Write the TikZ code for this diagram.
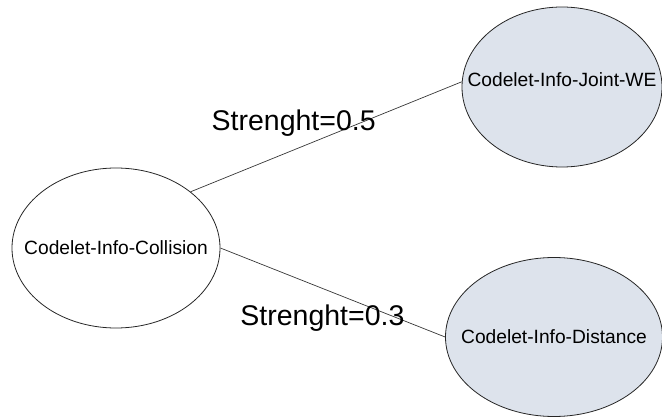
\documentclass[tikz,border=0pt]{standalone}
\usepackage{fontspec}
\setmainfont{Liberation Sans}
\usepackage{tikz}
\usetikzlibrary{shapes.geometric}
\definecolor{codeletfill}{RGB}{221,227,236}
\definecolor{edgegray}{RGB}{55,55,55}

\begin{document}
\begin{tikzpicture}[x=1pt, y=-1pt,
        codelet/.style={ellipse, draw=black!85, line width=0.8pt, inner xsep=-30pt, inner ysep=0pt,
            font=\fontsize{19.2}{22}\selectfont},
        strength/.style={anchor=base, font=\fontsize{28.5}{32}\selectfont}]

    \useasboundingbox (0,0) rectangle (662,417);

    \node[codelet, fill=white, minimum width=208pt, minimum height=160pt] (Collision) at (116,248) {Codelet-Info-Collision};
    \node[codelet, fill=codeletfill, minimum width=200pt, minimum height=160pt, text depth=14pt] (JointWE) at (562,87) {Codelet-Info-Joint-WE};
    \node[codelet, fill=codeletfill, minimum width=217pt, minimum height=159pt] (Distance) at (554,337) {Codelet-Info-Distance};

    \draw[edgegray, line width=0.7pt] (Collision.37) -- node[strength, black, pos=0.38, yshift=19pt] {Strenght=0.5} (JointWE.177);
    \draw[edgegray, line width=0.7pt] (Collision.east) -- node[strength, black, pos=0.454, yshift=-36.6pt] {Strenght=0.3} (Distance.west);

\end{tikzpicture}
\end{document}
